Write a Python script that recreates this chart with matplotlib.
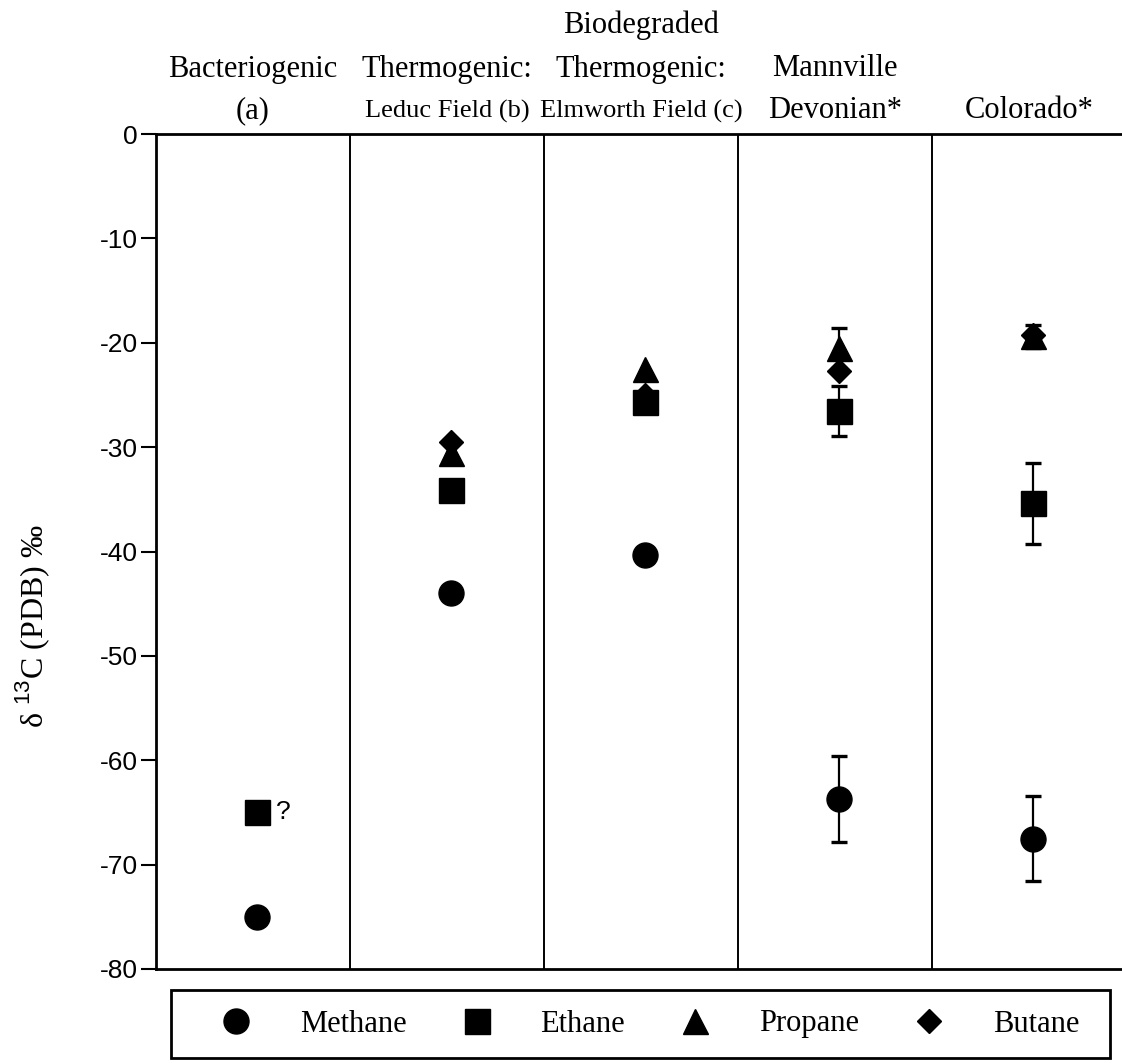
import numpy as np
import matplotlib
matplotlib.use("Agg")
import matplotlib.pyplot as plt
from matplotlib.patches import Rectangle

plt.rcParams["font.family"] = ["Liberation Serif", "DejaVu Serif"]
plt.rcParams["mathtext.fontset"] = "custom"
plt.rcParams["mathtext.rm"] = "Liberation Sans"
plt.rcParams["axes.unicode_minus"] = False

# column headings, three rows from top to bottom
head_top = ["", "", "Biodegraded", "", ""]
head_mid = ["Bacteriogenic", "Thermogenic:", "Thermogenic:", "Mannville", ""]
head_low = ["(a)", "Leduc Field (b)", "Elmworth Field (c)", "Devonian*", "Colorado*"]
head_low_size = [22, 19, 19, 22, 22]

# delta 13C (per mil PDB) of each gas, one value per column
methane = [-75.0, -44.0, -40.3, -63.7, -67.5]
methane_err = [0, 0, 0, 4.1, 4.1]
ethane = [-65.0, -34.1, -25.7, -26.5, -35.4]
ethane_err = [0, 0, 0, 2.4, 3.9]
propane = [np.nan, -30.6, -22.5, -20.5, -19.4]
propane_err = [0, 0, 0, 1.9, 1.1]
butane = [np.nan, -29.5, -25.0, -22.7, -19.3]
butane_err = [0, 0, 0, 0, 0]

gases = [
    ("Methane", "o", 18, methane, methane_err),
    ("Ethane", "s", 18, ethane, ethane_err),
    ("Propane", "^", 18, propane, propane_err),
    ("Butane", "D", 12, butane, butane_err),
]

W, H = 1122, 1063
fig = plt.figure(figsize=(W / 100, H / 100), dpi=100)
ax = fig.add_axes([156 / W, 1 - 969 / H, 970 / W, 835 / H])

ncol = len(head_low)
xpos = np.arange(ncol) + 0.52

handles = []
for name, mk, ms, vals, errs in gases:
    vals = np.asarray(vals, dtype=float)
    errs = np.asarray(errs, dtype=float)
    has_err = errs > 0
    if has_err.any():
        ax.errorbar(xpos[has_err], vals[has_err], yerr=errs[has_err], fmt="none",
                    ecolor="black", elinewidth=1.6, capsize=6, capthick=2.4, zorder=2)
    (ln,) = ax.plot(xpos, vals, ls="none", marker=mk, ms=ms, color="black",
                    mec="black", zorder=3, label=name)
    handles.append(ln)

# the bacteriogenic ethane value is uncertain
ax.annotate("?", (xpos[0], ethane[0]), xytext=(14, 0), textcoords="offset points",
            ha="left", va="center", fontsize=19, fontfamily="Liberation Sans")

for i in range(1, ncol):
    ax.axvline(i, color="black", lw=1.4, zorder=1)

ax.set_xlim(0, ncol)
ax.set_ylim(-80, 0)
ax.set_xticks([])
ax.set_yticks(np.arange(-80, 1, 10))
ax.tick_params(axis="y", direction="out", length=11, width=1.5, pad=2, labelsize=19)
for lab in ax.get_yticklabels():
    lab.set_fontfamily("Liberation Sans")
for side in ["left", "top", "bottom"]:
    ax.spines[side].set_linewidth(2.0)
ax.spines["right"].set_visible(False)

ax.text(-0.127, 0.41, "δ $^{13}$C (PDB) ‰", transform=ax.transAxes, rotation=90,
        ha="center", va="center", fontsize=23)

# headings above each column
tr = ax.get_xaxis_transform()
for i in range(ncol):
    xc = i + 0.5
    if head_top[i]:
        ax.text(xc, (969 - 25) / 835, head_top[i], transform=tr, ha="center",
                va="center", fontsize=22)
    if head_mid[i]:
        ax.text(xc, (969 - 69) / 835, head_mid[i], transform=tr, ha="center",
                va="center", fontsize=22)
    ax.text(xc, (969 - 111) / 835, head_low[i], transform=tr, ha="center",
            va="center", fontsize=head_low_size[i])

# boxed key underneath the plot
fig.add_artist(Rectangle((171 / W, 1 - 1058 / H), 939 / W, 68 / H,
                         transform=fig.transFigure, fill=False, lw=2.0, ec="black"))
fig.legend(handles, [h.get_label() for h in handles], loc="center left",
           bbox_to_anchor=(221 / W, 1 - 1058 / H, 858 / W, 68 / H), mode="expand",
           ncol=4, frameon=False, borderpad=0, borderaxespad=0, handlelength=1.0,
           handletextpad=1.59, fontsize=22, numpoints=1)

fig.savefig("out.png", dpi=100)
